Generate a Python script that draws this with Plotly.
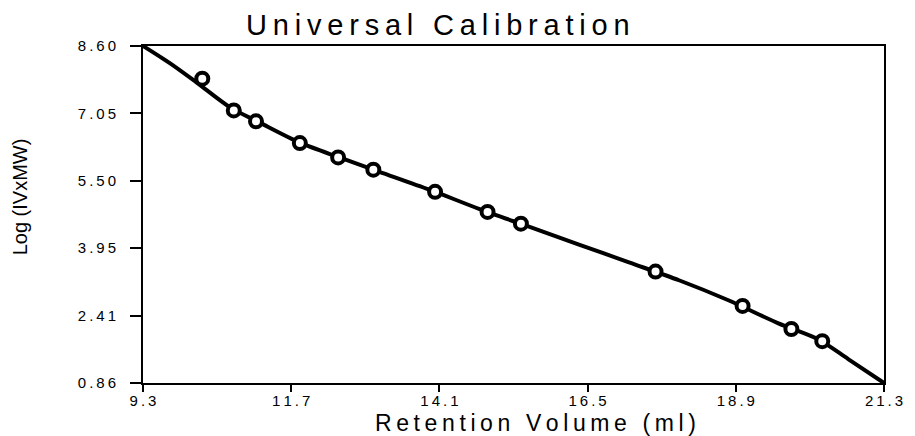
import plotly.graph_objects as go

# ---- data ----
curve_x = [9.30, 9.74, 10.17, 10.71, 11.19, 11.84, 12.48, 13.13, 13.94, 14.74,
           15.55, 16.36, 17.17, 17.98, 18.78, 19.59, 20.24, 20.72, 21.30]
curve_y = [8.60, 8.20, 7.76, 7.19, 6.84, 6.38, 6.04, 5.71, 5.30, 4.86,
           4.45, 4.04, 3.63, 3.22, 2.76, 2.23, 1.86, 1.41, 0.86]

point_x = [10.26, 10.77, 11.13, 11.84, 12.46, 13.03, 14.03, 14.88, 15.42,
           17.60, 19.01, 19.80, 20.30]
point_y = [7.85, 7.12, 6.87, 6.37, 6.04, 5.76, 5.25, 4.79, 4.52,
           3.42, 2.63, 2.10, 1.82]

x_ticks = [9.3, 11.7, 14.1, 16.5, 18.9, 21.3]
x_tick_labels = ["9.3", "11.7", "14.1", "16.5", "18.9", "21.3"]
y_ticks = [0.86, 2.408, 3.956, 5.504, 7.052, 8.60]
y_tick_labels = ["0.86", "2.41", "3.95", "5.50", "7.05", "8.60"]

title_text = "Universal Calibration"
x_title = "Retention Volume (ml)"
y_title = "Log (IVxMW)"


def spaced(s, sep="\u2009"):
    return sep.join(list(s))


SANS = "Liberation Sans, Arial, sans-serif"

fig = go.Figure()
fig.add_trace(go.Scatter(
    x=curve_x, y=curve_y, mode="lines",
    line=dict(color="black", width=4, shape="spline", smoothing=0.8),
    hoverinfo="skip", showlegend=False))
fig.add_trace(go.Scatter(
    x=point_x, y=point_y, mode="markers",
    marker=dict(symbol="circle", size=12, color="white",
                line=dict(color="black", width=4)),
    showlegend=False))

fig.update_layout(
    width=915, height=436,
    margin=dict(l=143, r=29, t=46, b=53),
    paper_bgcolor="white", plot_bgcolor="white",
    showlegend=False,
    xaxis=dict(range=[9.3, 21.3], tickvals=x_ticks,
               ticktext=[spaced(t) for t in x_tick_labels],
               showgrid=False, zeroline=False, showline=True, mirror=True,
               linecolor="black", linewidth=2, ticks="outside", ticklen=7,
               tickwidth=2, tickcolor="black", ticklabelstandoff=-4,
               tickfont=dict(family=SANS, size=15, color="black")),
    yaxis=dict(range=[0.86, 8.60], tickvals=y_ticks,
               ticktext=[spaced(t) for t in y_tick_labels],
               showgrid=False, zeroline=False, showline=True, mirror=True,
               linecolor="black", linewidth=2, ticks="outside", ticklen=11,
               tickwidth=2, tickcolor="black", ticklabelstandoff=11,
               tickfont=dict(family=SANS, size=15, color="black")),
    annotations=[
        dict(text=spaced(title_text), x=0.398, y=1.062, xref="paper", yref="paper",
             xanchor="center", yanchor="middle", showarrow=False,
             font=dict(family=SANS, size=29, color="black")),
        dict(text=spaced(x_title), x=0.530, y=-0.119, xref="paper", yref="paper",
             xanchor="center", yanchor="middle", showarrow=False,
             font=dict(family=SANS, size=23, color="black")),
        dict(text=y_title, x=-0.1655, y=0.552, xref="paper", yref="paper",
             xanchor="center", yanchor="middle", showarrow=False, textangle=-90,
             font=dict(family=SANS, size=20, color="black")),
    ],
)

fig.write_html("out.html")
